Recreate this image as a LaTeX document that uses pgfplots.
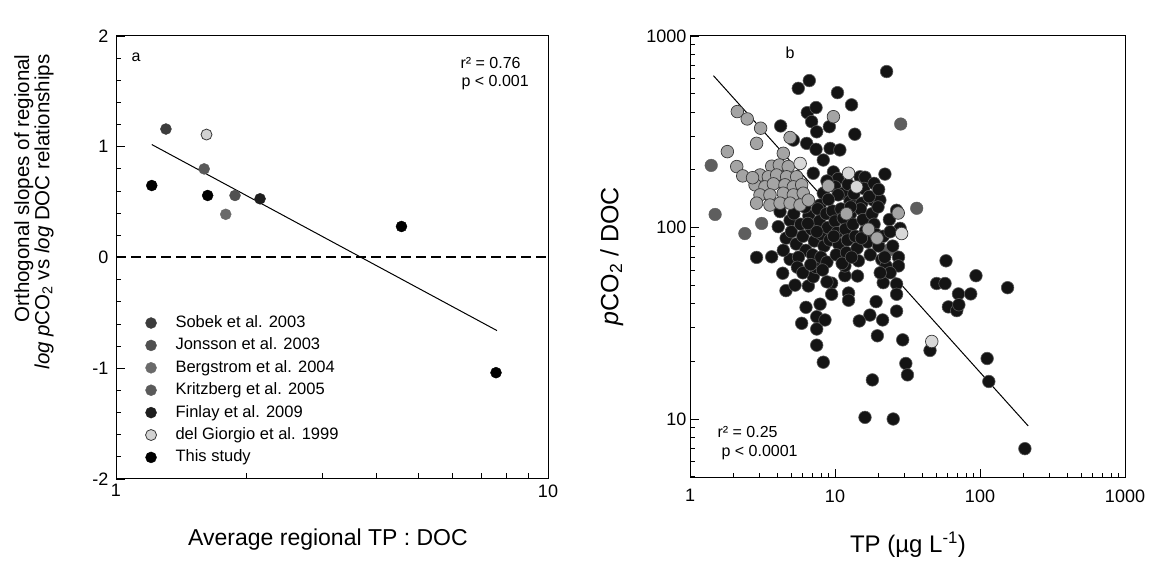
\documentclass[border=0pt]{standalone}
\usepackage{pgfplots}
\pgfplotsset{compat=1.18}
\usepackage{fontspec}
\setmainfont{Liberation Sans}

\definecolor{cSob}{HTML}{3C3C3C}
\definecolor{cJon}{HTML}{505050}
\definecolor{cBer}{HTML}{6A6A6A}
\definecolor{cKri}{HTML}{5A5A5A}
\definecolor{cFin}{HTML}{1E1E1E}
\definecolor{cDel}{HTML}{D2D2D2}
\definecolor{gA}{HTML}{A4A4A4}
\definecolor{gD}{HTML}{5E5E5E}
\definecolor{gL}{HTML}{D8D8D8}
\definecolor{gE}{HTML}{383838}
\definecolor{bE}{HTML}{5A5A5A}

\pgfplotsset{
  panel/.style={
    scale only axis, anchor=south west,
    axis line style={line width=1pt},
    tick style={line width=0.8pt, black},
    major tick length=9pt, minor tick length=5.5pt,
    tick label style={font=\fontsize{18}{20}\selectfont},
    xtick pos=bottom, ytick pos=left,
    tick align=inside,
  },
}

\begin{document}
\begin{tikzpicture}
\useasboundingbox (0pt,0pt) rectangle (1162pt,562pt);

% ---------- panel a ----------
\begin{axis}[panel,
  at={(116pt,83pt)}, width=432pt, height=443pt,
  xmode=log, xmin=1, xmax=10, ymin=-2, ymax=2,
  xtick={1,10}, xticklabels={1,10},
  minor xtick={2,3,4,5,6,7,8,9},
  ytick={-2,-1,0,1,2}, yticklabels={-2,-1,0,1,2},
  minor tick num=4,
  yticklabel style={xshift=-4pt},
  xticklabel style={yshift=-2pt},
  legend style={at={(0.061,0.374)}, anchor=north west, draw=none, fill=none,
    font=\fontsize{16.5}{18}\selectfont,
    nodes={inner sep=0pt, text height=12pt, text depth=3pt},
    row sep=7.4pt, column sep=19pt},
  legend cell align=left,
  legend image code/.code={\draw[#1] plot coordinates {(0pt,0pt)};},
]
\addplot[black, line width=2pt, dash pattern=on 10pt off 5pt, forget plot] coordinates {(1,0) (10,0)};
\addplot[black, line width=1pt, forget plot] coordinates {(1.21,1.02) (7.62,-0.66)};

\addplot[only marks, mark=*, mark size=5.5pt, mark options={fill=cSob, draw=cSob}] coordinates {(1.305,1.16)};
\addplot[only marks, mark=*, mark size=5.5pt, mark options={fill=cJon, draw=cJon}] coordinates {(1.886,0.56)};
\addplot[only marks, mark=*, mark size=5.5pt, mark options={fill=cBer, draw=cBer}] coordinates {(1.795,0.39)};
\addplot[only marks, mark=*, mark size=5.5pt, mark options={fill=cKri, draw=cKri}] coordinates {(1.60,0.80)};
\addplot[only marks, mark=*, mark size=5.5pt, mark options={fill=cFin, draw=cFin}] coordinates {(2.155,0.53)};
\addplot[only marks, mark=*, mark size=5.5pt, mark options={fill=cDel, draw=gE, line width=0.8pt}] coordinates {(1.62,1.11)};
\addplot[only marks, mark=*, mark size=5.5pt, mark options={fill=black, draw=black}] coordinates {
  (1.21,0.65) (1.63,0.56) (4.58,0.28) (7.58,-1.04)};
\legend{Sobek et al. 2003, Jonsson et al. 2003, Bergstrom et al. 2004,
  Kritzberg et al. 2005, Finlay et al. 2009, del Giorgio et al. 1999, This study}
\end{axis}

% ---------- panel b ----------
\begin{axis}[panel,
  at={(690pt,84pt)}, width=435pt, height=442pt,
  xmode=log, ymode=log,
  xmin=1, xmax=1000, ymin=4.92, ymax=1000,
  xtick={1,10,100,1000}, xticklabels={1,10,100,1000},
  minor xtick={2,3,4,5,6,7,8,9,20,30,40,50,60,70,80,90,200,300,400,500,600,700,800,900},
  ytick={10,100,1000}, yticklabels={10,100,1000},
  minor ytick={5,6,7,8,9,20,30,40,50,60,70,80,90,200,300,400,500,600,700,800,900},
  xticklabel style={yshift=-8pt},
]
\addplot[black, line width=1pt] coordinates {(1.45,621) (215,9.2)};

% dark grey
\addplot[only marks, mark=*, mark size=6.3pt, mark options={fill=gD, draw=gD}] table {
x y
1.40 211
1.49 117
2.39 93
3.12 105
28.4 347
36.6 126
23.3 76
};

% black
\addplot[only marks, mark=*, mark size=6.3pt, mark options={fill=black!92, draw=bE, line width=0.6pt}] table {
x y
22.7 652
5.58 533
6.65 585
10.4 506
13.0 437
4.22 339
5.16 286
6.44 398
7.40 423
6.90 357
7.48 316
6.38 275
7.40 256
8.30 225
7.08 192
4.18 183
8.30 151
7.89 131
9.14 336
13.7 307
9.25 259
10.8 254
22.1 190
14.9 184
16.1 183
9.75 195
10.5 180
10.0 163
11.4 151
12.7 137
15.3 134
18.4 139
20.4 139
26.6 123
23.7 110
28.1 99
58.3 67
93.8 56
27.4 70
27.4 63
25.0 80
50.2 51
57.4 51
71.0 45
86.3 45
60.5 38.5
69.1 36.8
71.5 39.5
21.5 51.5
26.6 50.7
26.6 44.8
19.2 41.0
12.4 45.5
12.4 41.7
14.3 55.8
11.7 56.0
9.48 51.2
9.48 44.8
26.6 36.6
17.4 34.9
14.7 32.5
21.3 32.9
19.6 27.2
29.3 25.9
7.48 24.3
8.30 19.8
45.2 22.8
30.8 19.5
31.6 17.0
18.1 16.0
16.1 10.2
25.2 10.0
112 20.7
115 15.7
204 7.0
155 48.5
4.36 57.7
4.59 46.8
6.55 49.5
7.08 55.3
11.7 63
6.31 38.3
7.89 39.8
7.48 34.2
8.53 32.9
5.89 31.6
7.48 29.5
2.88 69.8
3.66 70.3
4.90 68.2
4.18 121
4.90 109
4.06 101
4.6 88
5.0 95
5.4 82
5.2 118
5.8 104
6.0 90
6.3 76
6.6 115
6.9 98
7.2 85
7.0 72
7.6 125
7.8 108
8.1 92
8.4 80
8.7 118
8.9 100
9.2 86
4.4 76
5.6 70
6.2 128
7.4 62
8.0 70
8.8 66
6.5 105
7.5 95
9.6 122
10.0 108
10.3 94
10.6 82
10.2 72
11.0 125
11.4 112
11.8 98
12.2 86
12.0 74
12.8 118
13.3 104
13.8 90
14.2 78
14.5 67
15.0 125
15.6 110
16.2 96
16.8 84
17.5 72
18.0 118
18.6 104
19.2 92
20.0 80
21.0 68
19.8 128
11.2 65
13.0 70
9.8 90
15.2 88
8.8 175
10.5 148
12.3 168
13.5 150
15.8 160
17.2 145
18.6 170
20.0 158
9.0 140
12.8 128
5.5 62
6.0 58
6.8 64
8.2 60
8.8 52
5.3 50
21.5 90
24.0 95
22.5 63
24.0 58
20.5 58
22.0 70
};

% light grey cluster
\addplot[only marks, mark=*, mark size=6.3pt, mark options={fill=gA, draw=gE, line width=0.7pt}] table {
x y
2.12 403
2.48 369
3.07 330
2.88 275
1.81 249
2.10 208
2.31 186
4.40 244
4.90 295
3.66 209
4.13 212
4.76 208
3.04 188
3.47 184
3.96 188
4.64 184
5.44 184
2.81 167
3.29 163
3.76 169
4.52 167
5.16 163
5.89 167
3.04 148
3.56 148
4.40 151
5.16 148
6.04 151
2.88 134
3.56 131
4.18 134
4.90 134
5.74 131
6.55 139
2.70 182
9.75 379
27.3 119
17.0 98
19.5 88
12.0 118
9.0 165
};

% very light
\addplot[only marks, mark=*, mark size=6.3pt, mark options={fill=gL, draw=gE, line width=0.7pt}] table {
x y
5.75 216
12.4 192
14.1 163
46.5 25.4
28.8 93
};
\end{axis}

% ---------- texts ----------
\node[font=\fontsize{16}{18}\selectfont] at (136pt,505pt) {a};
\node[font=\fontsize{16}{18}\selectfont, anchor=west] at (457pt,499pt) {r² = 0.76};
\node[font=\fontsize{16}{18}\selectfont, anchor=west] at (458pt,479pt) {p < 0.001};
\node[font=\fontsize{23}{25}\selectfont] at (328pt,22pt) {Average regional TP : DOC};
\node[font=\fontsize{20.5}{18.5}\selectfont, rotate=90, anchor=east, align=right] at (34pt,511pt)
  {Orthogonal slopes of regional\\\textit{log p}CO\textsubscript{2} vs \textit{log} DOC relationships};

\node[font=\fontsize{16}{18}\selectfont] at (790pt,509pt) {b};
\node[font=\fontsize{16}{18}\selectfont, anchor=west] at (714pt,130pt) {r² = 0.25};
\node[font=\fontsize{16}{18}\selectfont, anchor=west] at (718pt,109pt) {p < 0.0001};
\node[font=\fontsize{24}{26}\selectfont] at (908pt,17pt) {TP (µg L\textsuperscript{-1})};
\node[font=\fontsize{25}{27}\selectfont, rotate=90] at (612pt,306pt) {\textit{p}CO\textsubscript{2} / DOC};
\end{tikzpicture}
\end{document}
